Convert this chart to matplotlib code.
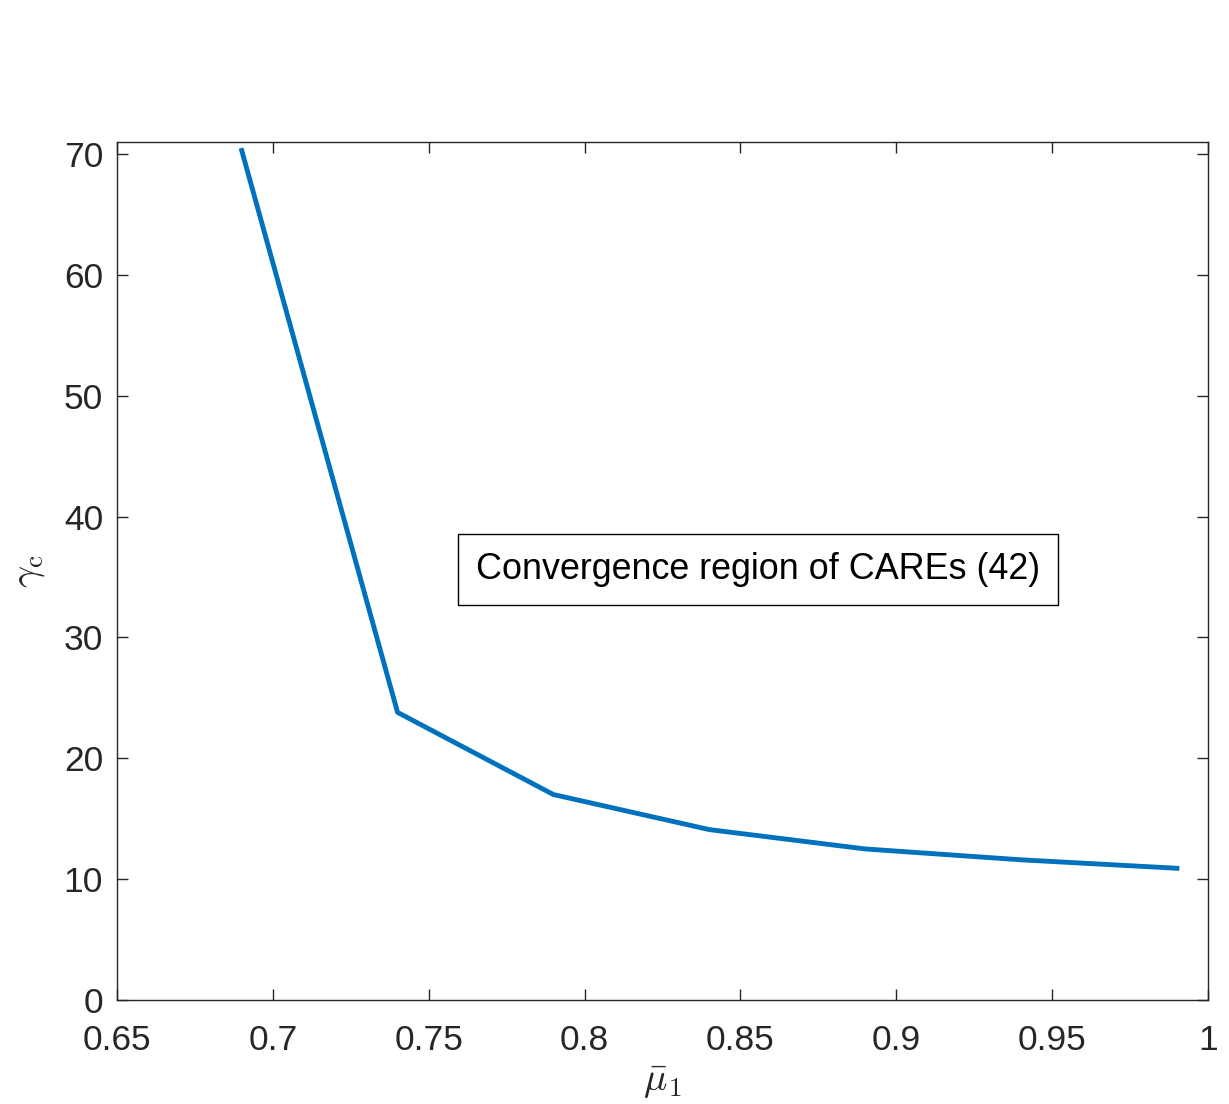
import numpy as np
import matplotlib.pyplot as plt

plt.rcParams['font.family'] = ['Liberation Sans', 'DejaVu Sans']
plt.rcParams['mathtext.fontset'] = 'cm'

mu1 = [0.69, 0.74, 0.79, 0.84, 0.89, 0.94, 0.99]
gamma_c = [70.3, 23.8, 17.0, 14.1, 12.5, 11.6, 10.9]

xticks = [0.65, 0.7, 0.75, 0.8, 0.85, 0.9, 0.95, 1]
xticklabels = ['0.65', '0.7', '0.75', '0.8', '0.85', '0.9', '0.95', '1']
yticks = [0, 10, 20, 30, 40, 50, 60, 70]

fig = plt.figure(figsize=(12.29, 11.04), dpi=100)
ax = fig.add_axes([0.0952, 0.0942, 0.8878, 0.7772])
ax.plot(mu1, gamma_c, color='#0072BD', lw=3.5)

ax.set_xlim(0.65, 1)
ax.set_ylim(0, 71)
ax.set_xticks(xticks)
ax.set_xticklabels(xticklabels)
ax.set_yticks(yticks)
ax.tick_params(direction='in', top=True, right=True, length=8, width=1,
               labelsize=25.5, colors='#262626')
ax.tick_params(axis='x', pad=17)
ax.tick_params(axis='y', pad=10)
for s in ax.spines.values():
    s.set_color('#262626')
    s.set_linewidth(1)

ax.set_xlabel(r'$\bar{\mu}_1$', fontsize=28, color='#262626', labelpad=6)
ax.set_ylabel(r'$\gamma_\mathrm{c}$', fontsize=28, color='#262626', labelpad=12)

ax.text(0.7651, 35.6, 'Convergence region of CAREs (42)', fontsize=25.8,
        ha='left', va='center',
        bbox=dict(boxstyle='square,pad=0.5', fc='white', ec='black', lw=1))

fig.savefig('out.png', dpi=100)
